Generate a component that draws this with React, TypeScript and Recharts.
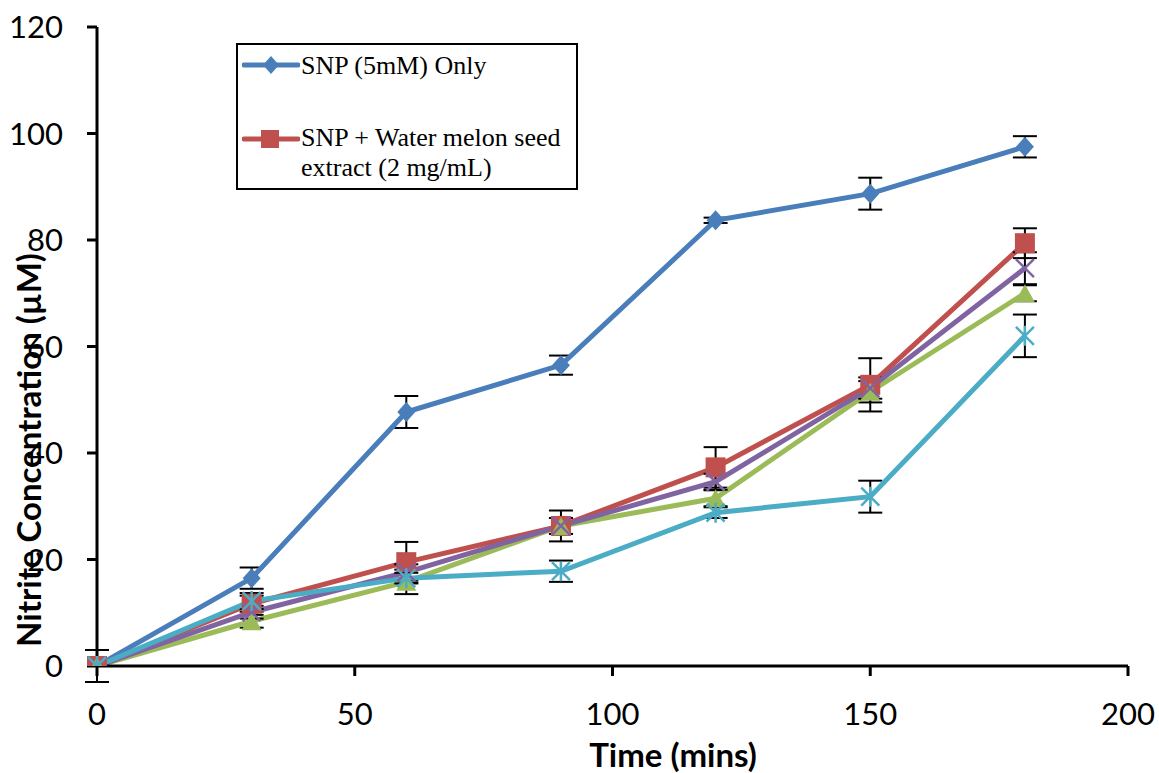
import { LineChart, Line, XAxis, YAxis, ErrorBar, Legend, Label } from "recharts";

// sampling times (mins)
const times = [0, 30, 60, 90, 120, 150, 180];

// nitrite concentration (µM) per group, with error bar sizes
const snpOnly = [0, 16.5, 47.7, 56.5, 83.7, 88.7, 97.5];
const snpOnlyErr = [0, 2, 3, 1.8, 0.5, 3, 2];
const snpMelon = [0, 11.7, 19.5, 26.3, 37.3, 52.8, 79.4];
const snpMelonErr = [3, 1.5, 3.8, 2.9, 3.8, 5, 2.8];
const series3 = [0, 8.4, 15.8, 26.3, 31.5, 51.5, 70];
const series3Err = [0, 1.2, 2.3, 1.5, 1.5, 2, 1.5];
const series4 = [0, 10.1, 17.6, 26.3, 34.6, 52.2, 74.7];
const series4Err = [0, 1.2, 1.5, 1.5, 1.5, 2, 3];
const series5 = [0, 12.2, 16.5, 17.8, 28.8, 31.8, 62];
const series5Err = [0, 1.5, 1, 2, 1, 3, 4];

const xTicks = [0, 50, 100, 150, 200];
const yTicks = [0, 20, 40, 60, 80, 100, 120];

const data = times.map((t, i) => ({
  time: t,
  s1: snpOnly[i],
  e1: snpOnlyErr[i],
  s2: snpMelon[i],
  e2: snpMelonErr[i],
  s3: series3[i],
  e3: series3Err[i],
  s4: series4[i],
  e4: series4Err[i],
  s5: series5[i],
  e5: series5Err[i],
}));

const BLUE = "#4A7EBB";
const RED = "#C0504D";
const GREEN = "#9BBB59";
const PURPLE = "#8064A2";
const CYAN = "#4BACC6";

const tickStyle = { fill: "#000", fontSize: 31, fontFamily: "Lato" };

const diamondDot = (p: any) => (
  <path
    key={`dia-${p.index}`}
    d={`M${p.cx},${p.cy - 10}L${p.cx + 9},${p.cy}L${p.cx},${p.cy + 10}L${p.cx - 9},${p.cy}Z`}
    fill={BLUE}
  />
);

const squareDot = (p: any) => (
  <rect key={`sq-${p.index}`} x={p.cx - 10} y={p.cy - 10} width={20} height={20} fill={RED} />
);

const triangleDot = (p: any) => (
  <path
    key={`tri-${p.index}`}
    d={`M${p.cx},${p.cy - 9}L${p.cx + 10},${p.cy + 9}L${p.cx - 10},${p.cy + 9}Z`}
    fill={GREEN}
  />
);

const crossDot = (p: any) => (
  <path
    key={`x-${p.index}`}
    d={`M${p.cx - 9},${p.cy - 9}L${p.cx + 9},${p.cy + 9}M${p.cx + 9},${p.cy - 9}L${p.cx - 9},${p.cy + 9}`}
    stroke={PURPLE}
    strokeWidth={2.5}
  />
);

const starDot = (p: any) => (
  <path
    key={`st-${p.index}`}
    d={`M${p.cx - 9},${p.cy - 9}L${p.cx + 9},${p.cy + 9}M${p.cx + 9},${p.cy - 9}L${p.cx - 9},${p.cy + 9}M${p.cx},${p.cy - 10}L${p.cx},${p.cy + 10}`}
    stroke={CYAN}
    strokeWidth={2.5}
  />
);

function LegendBox() {
  return (
    <div
      style={{
        width: 342,
        height: 147,
        boxSizing: "border-box",
        border: "2px solid #000",
        background: "#fff",
        position: "relative",
        fontFamily: '"Liberation Serif", "Times New Roman", serif',
        fontSize: 26,
        lineHeight: "30px",
        color: "#000",
      }}
    >
      <svg width={58} height={24} style={{ position: "absolute", left: 4, top: 8 }}>
        <line x1={2} y1={12} x2={56} y2={12} stroke={BLUE} strokeWidth={5} strokeLinecap="round" />
        <path d="M29,3L37,12L29,21L21,12Z" fill={BLUE} />
      </svg>
      <div style={{ position: "absolute", left: 63, top: 6, whiteSpace: "nowrap" }}>SNP (5mM) Only</div>
      <svg width={58} height={24} style={{ position: "absolute", left: 4, top: 82 }}>
        <line x1={2} y1={12} x2={56} y2={12} stroke={RED} strokeWidth={5} strokeLinecap="round" />
        <rect x={19} y={3} width={18} height={18} fill={RED} />
      </svg>
      <div style={{ position: "absolute", left: 63, top: 78, whiteSpace: "nowrap" }}>
        SNP + Water melon seed
        <br />
        extract (2 mg/mL)
      </div>
    </div>
  );
}

export default function App() {
  return (
    <div style={{ position: "absolute", left: 0, top: 0, background: "#fff" }}>
      <LineChart width={1159} height={773} data={data} margin={{ top: 27, right: 31, left: 0, bottom: 0 }}>
        <XAxis
          dataKey="time"
          type="number"
          domain={[0, 200]}
          ticks={xTicks}
          height={107}
          tick={tickStyle}
          tickSize={10}
          tickMargin={27}
          axisLine={{ stroke: "#000", strokeWidth: 3 }}
          tickLine={{ stroke: "#000", strokeWidth: 3 }}
        >
          <Label
            content={() => (
              <text x={673} y={767} textAnchor="middle" fontFamily="Lato" fontWeight="bold" fontSize={33} fill="#000">
                Time (mins)
              </text>
            )}
          />
        </XAxis>
        <YAxis
          type="number"
          domain={[0, 120]}
          allowDataOverflow
          ticks={yTicks}
          width={97}
          tick={tickStyle}
          tickSize={10}
          tickMargin={24}
          axisLine={{ stroke: "#000", strokeWidth: 3 }}
          tickLine={{ stroke: "#000", strokeWidth: 3 }}
        >
          <Label
            content={() => (
              <text
                x={41}
                y={450}
                transform="rotate(-90 41 450)"
                textAnchor="middle"
                fontFamily="Lato"
                fontWeight="bold"
                fontSize={33}
                fill="#000"
              >
                Nitrite Concentration (µM)
              </text>
            )}
          />
        </YAxis>
        <Legend
          layout="vertical"
          align="center"
          verticalAlign="middle"
          wrapperStyle={{ left: 236, top: 43, width: 342, height: 147 }}
          content={() => <LegendBox />}
        />
        <Line dataKey="s1" name="SNP (5mM) Only" stroke={BLUE} strokeWidth={5} dot={diamondDot} isAnimationActive={false}>
          <ErrorBar dataKey="e1" width={12} stroke="#000" strokeWidth={2} direction="y" />
        </Line>
        <Line dataKey="s2" name="SNP + Water melon seed extract (2 mg/mL)" stroke={RED} strokeWidth={5} dot={squareDot} isAnimationActive={false}>
          <ErrorBar dataKey="e2" width={12} stroke="#000" strokeWidth={2} direction="y" />
        </Line>
        <Line dataKey="s3" name="Series 3" stroke={GREEN} strokeWidth={5} dot={triangleDot} isAnimationActive={false}>
          <ErrorBar dataKey="e3" width={12} stroke="#000" strokeWidth={2} direction="y" />
        </Line>
        <Line dataKey="s4" name="Series 4" stroke={PURPLE} strokeWidth={5} dot={crossDot} isAnimationActive={false}>
          <ErrorBar dataKey="e4" width={12} stroke="#000" strokeWidth={2} direction="y" />
        </Line>
        <Line dataKey="s5" name="Series 5" stroke={CYAN} strokeWidth={5} dot={starDot} isAnimationActive={false}>
          <ErrorBar dataKey="e5" width={12} stroke="#000" strokeWidth={2} direction="y" />
        </Line>
      </LineChart>
    </div>
  );
}
